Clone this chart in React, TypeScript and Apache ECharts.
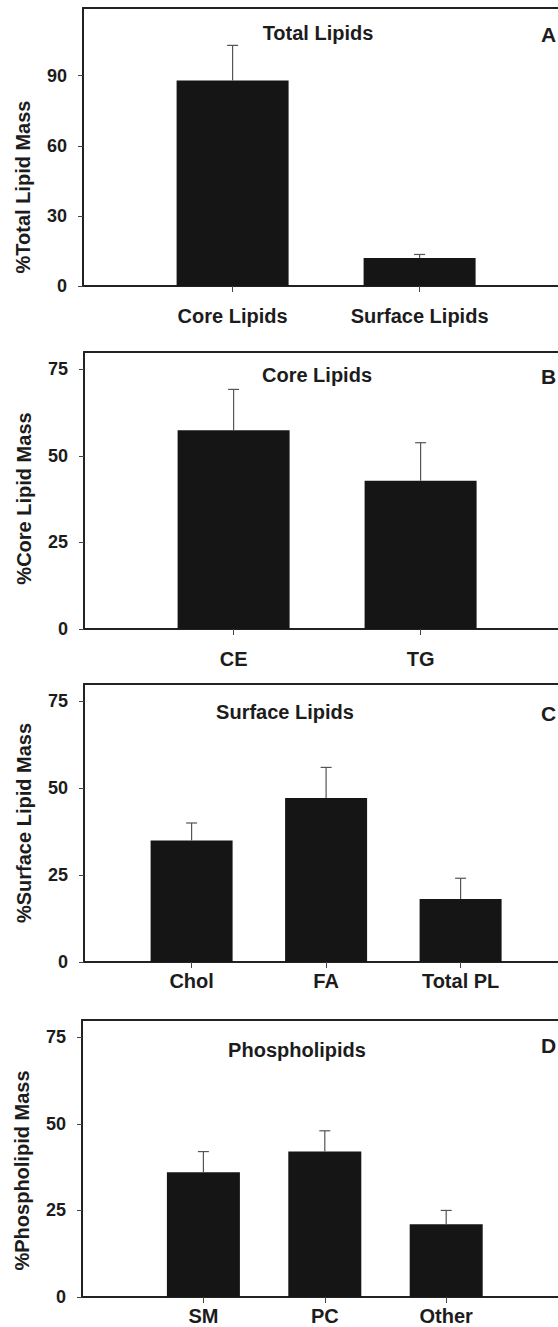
import React, { useEffect, useRef } from "react";
import * as echarts from "echarts";

// ---- Data ----
const catsA = ["Core Lipids", "Surface Lipids"];
const valsA = [88, 12];
const errA = [15, 1.5];

const catsB = ["CE", "TG"];
const valsB = [57.4, 42.8];
const errB = [11.8, 11];

const catsC = ["Chol", "FA", "Total PL"];
const valsC = [35, 47.2, 18.1];
const errC = [5, 8.8, 6];

const catsD = ["SM", "PC", "Other"];
const valsD = [36, 42, 21];
const errD = [6, 6, 4];

const ticksA = [0, 30, 60, 90];
const ticksBCD = [0, 25, 50, 75];

const titles = ["Total Lipids", "Core Lipids", "Surface Lipids", "Phospholipids"];
const letters = ["A", "B", "C", "D"];
const yNames = ["%Total Lipid Mass", "%Core Lipid Mass", "%Surface Lipid Mass", "%Phospholipid Mass"];

const FONT = "'Liberation Sans', Arial, Helvetica, sans-serif";
const INK = "#1c1c1c";
const FRAME = { color: "#222", width: 2 };

type Panel = {
  cats: string[];
  vals: number[];
  errs: number[];
  ticks: number[];
  yMax: number;
  left: number;
  top: number;
  height: number;
  unit: number;
  xMin: number;
  xMax: number;
  barWidth: number;
  labelMargin: number;
  titleX: number;
  titleY: number;
  letterY: number;
  nameShift: number;
};

const panels: Panel[] = [
  { cats: catsA, vals: valsA, errs: errA, ticks: ticksA, yMax: 119, left: 83, top: 8, height: 278, unit: 187, xMin: 0.2, xMax: 2.8, barWidth: 112, labelMargin: 20, titleX: 318, titleY: 33, letterY: 34, nameShift: 40 },
  { cats: catsB, vals: valsB, errs: errB, ticks: ticksBCD, yMax: 80, left: 84, top: 352, height: 277, unit: 187, xMin: 0.2, xMax: 2.8, barWidth: 112, labelMargin: 20, titleX: 317, titleY: 375, letterY: 376, nameShift: 8 },
  { cats: catsC, vals: valsC, errs: errC, ticks: ticksBCD, yMax: 80, left: 84, top: 684, height: 278, unit: 134.5, xMin: 0.2, xMax: 3.8, barWidth: 82, labelMargin: 9, titleX: 285, titleY: 712, letterY: 713, nameShift: 0 },
  { cats: catsD, vals: valsD, errs: errD, ticks: ticksBCD, yMax: 80, left: 82, top: 1020, height: 277, unit: 121.4, xMin: 0, xMax: 4, barWidth: 73, labelMargin: 9, titleX: 297, titleY: 1050, letterY: 1045, nameShift: 12 },
];

export default function App() {
  const ref = useRef<HTMLDivElement>(null);

  useEffect(() => {
    document.body.style.margin = "0";
    if (!ref.current) return;
    const chart = echarts.init(ref.current, undefined, { renderer: "svg" });

    const grid: any[] = [];
    const xAxis: any[] = [];
    const yAxis: any[] = [];
    const series: any[] = [];
    const graphic: any[] = [];

    panels.forEach((p, i) => {
      grid.push({
        left: p.left,
        top: p.top,
        height: p.height,
        width: (p.xMax - p.xMin) * p.unit,
        show: false,
      });
      const idxs = p.cats.map((_, k) => k + 1);
      xAxis.push({
        type: "value",
        gridIndex: i,
        position: "bottom",
        min: p.xMin,
        max: p.xMax,
        splitLine: { show: false },
        axisLine: { show: true, onZero: false, lineStyle: FRAME },
        axisTick: { show: true, customValues: idxs, length: 6, lineStyle: { color: "#444", width: 1 } },
        axisLabel: {
          customValues: idxs,
          margin: p.labelMargin,
          fontSize: 20,
          fontWeight: "bold",
          fontFamily: FONT,
          color: INK,
          formatter: (v: number) => p.cats[Math.round(v) - 1] ?? "",
        },
      });
      xAxis.push({
        type: "value",
        gridIndex: i,
        position: "top",
        min: p.xMin,
        max: p.xMax,
        splitLine: { show: false },
        axisLine: { show: true, onZero: false, lineStyle: FRAME },
        axisTick: { show: false },
        axisLabel: { show: false },
      });
      yAxis.push({
        type: "value",
        gridIndex: i,
        min: 0,
        max: p.yMax,
        splitLine: { show: false },
        axisLine: { show: true, onZero: false, lineStyle: FRAME },
        axisTick: { show: true, customValues: p.ticks, length: 5, lineStyle: { color: "#444", width: 1 } },
        axisLabel: {
          customValues: p.ticks,
          margin: 16,
          fontSize: 18,
          fontWeight: "bold",
          fontFamily: FONT,
          color: INK,
        },
        name: yNames[i],
        nameLocation: "middle",
        nameGap: 50,
        nameTextStyle: {
          fontSize: 20,
          fontWeight: "bold",
          fontFamily: FONT,
          color: INK,
          padding: [0, p.nameShift * 2, 0, 0],
        },
      });
      series.push({
        type: "bar",
        xAxisIndex: i * 2,
        yAxisIndex: i,
        barWidth: p.barWidth,
        itemStyle: { color: "#151515" },
        data: p.vals.map((v, k) => [k + 1, v]),
        z: 2,
      });
      series.push({
        type: "custom",
        xAxisIndex: i * 2,
        yAxisIndex: i,
        z: 3,
        data: p.vals.map((v, k) => [k + 1, v, p.errs[k]]),
        renderItem: (params: any, api: any) => {
          const x = api.value(0);
          const v = api.value(1);
          const e = api.value(2);
          const p0 = api.coord([x, v]);
          const p1 = api.coord([x, v + e]);
          const st = { stroke: "#555", lineWidth: 1.2 };
          return {
            type: "group",
            children: [
              { type: "line", shape: { x1: p0[0], y1: p0[1], x2: p1[0], y2: p1[1] }, style: st },
              { type: "line", shape: { x1: p1[0] - 5.5, y1: p1[1], x2: p1[0] + 5.5, y2: p1[1] }, style: st },
            ],
          };
        },
      });
      graphic.push({
        type: "text",
        x: p.titleX,
        y: p.titleY,
        style: {
          text: titles[i],
          font: `bold 20px ${FONT}`,
          fill: INK,
          textAlign: "center",
          textVerticalAlign: "middle",
        },
      });
      graphic.push({
        type: "text",
        x: 541,
        y: p.letterY,
        style: {
          text: letters[i],
          font: `bold 21px ${FONT}`,
          fill: INK,
          textAlign: "left",
          textVerticalAlign: "middle",
        },
      });
    });

    chart.setOption({
      animation: false,
      backgroundColor: "#ffffff",
      grid,
      xAxis,
      yAxis,
      series,
      graphic,
    });

    return () => chart.dispose();
  }, []);

  return (
    <div style={{ width: 558, height: 1327, overflow: "hidden" }}>
      <div ref={ref} style={{ width: 700, height: 1327 }} />
    </div>
  );
}
